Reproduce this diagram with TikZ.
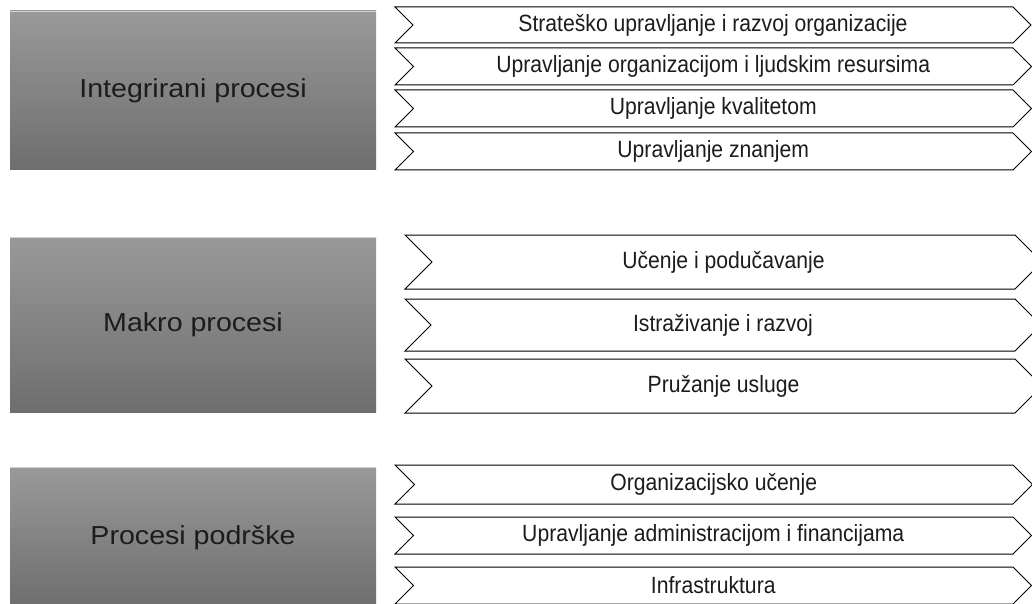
\documentclass[tikz,border=0pt]{standalone}
\usepackage{fontspec}
\setmainfont{Liberation Sans}[FakeStretch=0.9]
\newfontfamily\boxfont{Liberation Sans}[FakeStretch=1.1]
\definecolor{boxtop}{HTML}{999999}
\definecolor{boxbot}{HTML}{6E6E6E}
\definecolor{boxedge}{HTML}{CFCFCF}
\definecolor{txt}{HTML}{1C1C1C}
\tikzset{
  chevline/.style={draw=black, fill=white, line width=1pt, line join=miter},
  chevtext/.style={text=txt, font=\fontsize{23.5}{26}\selectfont, inner sep=0pt},
  grpbox/.style={top color=boxtop, bottom color=boxbot, draw=none},
  boxtext/.style={text=txt, font=\boxfont\fontsize{26}{30}\selectfont, inner sep=0pt}
}
% #1 left x, #2 top y, #3 bottom y, #4 shoulder x, #5 name, #6 text
\newcommand\chevshape[6]{%
  \pgfmathsetmacro\hh{(#3-#2)/2}%
  \pgfmathsetmacro\my{(#3+#2)/2}%
  \draw[chevline] (#1,#2) -- (#4,#2) -- ({#4+\hh},\my) -- (#4,#3) -- (#1,#3) -- ({#1+\hh},\my) -- cycle;
  \node[chevtext] (#5) at ({(#1+\hh+#4)/2},\my) {#6};
}
% #1 top, #2 bottom, #3 name, #4 text
\newcommand\grpbox[4]{%
  \fill[grpbox] (10,#1) rectangle (376,#2);
  \draw[boxedge, line width=1pt] (10,{#1+0.5}) -- (376,{#1+0.5});
  \node[boxtext] (#3) at (193,{(#1+#2)/2}) {#4};
}
\begin{document}
\begin{tikzpicture}[x=1pt,y=-1pt]
\useasboundingbox (0,0) rectangle (1032,604);
\clip (0,0) rectangle (1032,604);
\fill[white] (0,0) rectangle (1032,604);
% group 1
\grpbox{11}{170}{g1}{Integrirani procesi}
\chevshape{395}{7}{43}{1013}{c11}{Strateško upravljanje i razvoj organizacije}
\chevshape{395}{48}{85}{1013}{c12}{Upravljanje organizacijom i ljudskim resursima}
\chevshape{395}{90}{127}{1013}{c13}{Upravljanje kvalitetom}
\chevshape{395}{133}{170}{1013}{c14}{Upravljanje znanjem}
% group 2
\grpbox{237}{412}{g2}{Makro procesi}
\chevshape{405}{235}{289}{1015}{c21}{Učenje i podučavanje}
\chevshape{405}{299}{351}{1015}{c22}{Istraživanje i razvoj}
\chevshape{405}{359}{413}{1015}{c23}{Pružanje usluge}
% group 3
\grpbox{467}{608}{g3}{Procesi podrške}
\chevshape{395}{465}{504}{1013}{c31}{Organizacijsko učenje}
\chevshape{395}{517}{554}{1013}{c32}{Upravljanje administracijom i financijama}
\chevshape{395}{567}{604}{1013}{c33}{Infrastruktura}
\end{tikzpicture}
\end{document}
